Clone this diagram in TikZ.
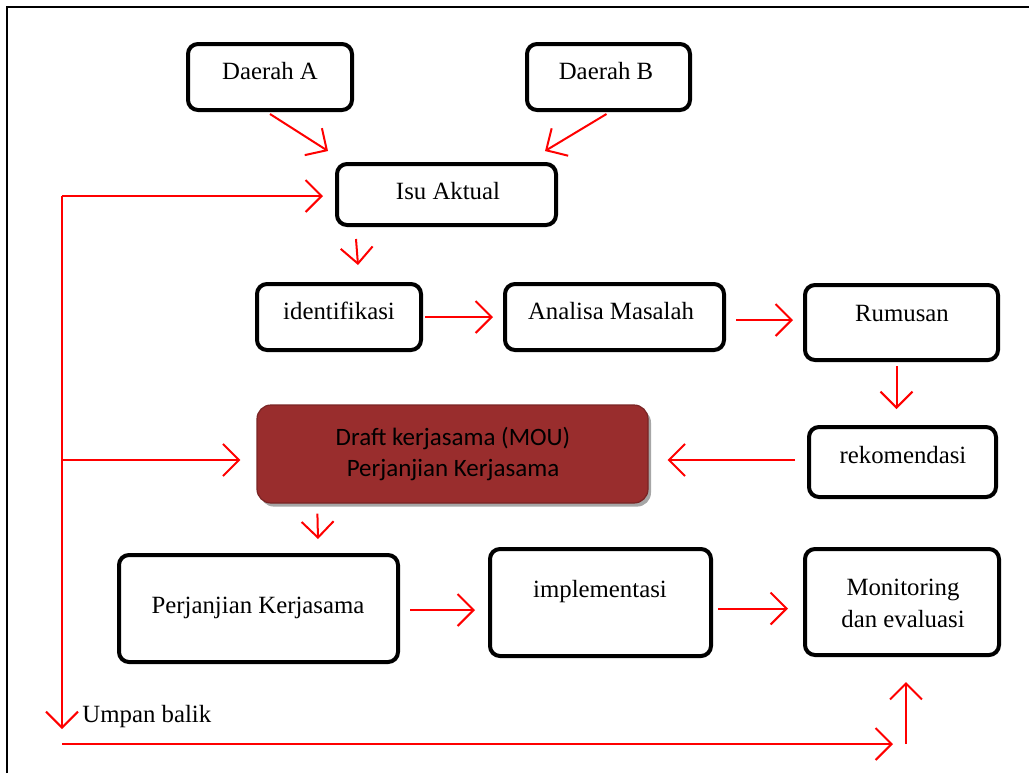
\documentclass[tikz,border=0pt]{standalone}
\usepackage{fontspec}
\setmainfont{Liberation Serif}
\newfontfamily\calfont{Carlito}
\usetikzlibrary{arrows.meta,calc,shadows}
\definecolor{arred}{RGB}{255,0,0}
\definecolor{draftred}{RGB}{153,45,45}
\begin{document}
\begin{tikzpicture}[x=0.5pt,y=-0.5pt,
  box/.style={draw=black,line width=2pt,rounded corners=5pt,inner sep=0pt,fill=white},
  txt/.style={anchor=base,inner sep=0pt,font=\fontsize{12.4}{15}\selectfont},
  arr/.style={draw=arred,line width=1pt,-{Straight Barb[length=8pt,width=16pt,line width=1pt]}},
  rline/.style={draw=arred,line width=1pt}]
\useasboundingbox (0,0) rectangle (1029,773);
\draw[line width=1pt] (7,773) -- (7,7) -- (1029,7);
% boxes
\node[box,minimum width=82pt,minimum height=33pt] (da) at (270,77) {};
\node[box,minimum width=81.5pt,minimum height=33pt] (db) at (608.5,77) {};
\node[box,minimum width=109.5pt,minimum height=30.5pt] (isu) at (446.5,194.5) {};
\node[box,minimum width=82pt,minimum height=33pt] (idf) at (339,317) {};
\node[box,minimum width=109.5pt,minimum height=33pt] (ana) at (614.5,317) {};
\node[box,minimum width=96.5pt,minimum height=37.5pt] (rum) at (901.5,322.5) {};
\node[box,minimum width=93.5pt,minimum height=35pt] (rek) at (902.5,462) {};
\node[draw=draftred!80!black,line width=0.6pt,fill=draftred,rounded corners=7pt,inner sep=0pt,
  minimum width=195.5pt,minimum height=49pt,
  drop shadow={shadow xshift=1.5pt,shadow yshift=-1.8pt,fill=gray!70,opacity=1}] (draft) at (452.5,454) {};
\node[box,minimum width=139.5pt,minimum height=53.5pt] (pk) at (258.5,608.5) {};
\node[box,minimum width=110.5pt,minimum height=53.5pt] (imp) at (600.5,602.5) {};
\node[box,minimum width=97pt,minimum height=53pt] (mon) at (902,602) {};
% texts
\node[txt] (tda) at (270,79) {Daerah A};
\node[txt] (tdb) at (606,79) {Daerah B};
\node[txt] (tisu) at (448,199) {Isu Aktual};
\node[txt] (tidf) at (339,319) {identifikasi};
\node[txt] (tana) at (611,319) {Analisa Masalah};
\node[txt] (trum) at (902,321) {Rumusan};
\node[txt] (trek) at (903,463) {rekomendasi};
\node[txt,font=\calfont\fontsize{12.5}{15}\selectfont] (tdr1) at (453,445) {Draft kerjasama (MOU)};
\node[txt,font=\calfont\fontsize{12.5}{15}\selectfont] (tdr2) at (453,476) {Perjanjian Kerjasama};
\node[txt] (tpk) at (258,613) {Perjanjian Kerjasama};
\node[txt] (timp) at (600,597) {implementasi};
\node[txt] (tmon1) at (903,595) {Monitoring};
\node[txt] (tmon2) at (903,627) {dan evaluasi};
\node[txt,anchor=base west] (tub) at (82,722) {Umpan balik};
% feedback coordinates
\coordinate (fbtop) at (62,196);
\coordinate (fbmid) at (62,460);
\coordinate (fbend) at (62,729);
\coordinate (btl) at (62,744);
\coordinate (btr) at (893,744);
\coordinate (upst) at (906,744);
% connectors
\draw[arr] ($(da.south)+(0,2)$) -- ($(isu.north west)+(-7,-11)$);
\draw[arr] ($(db.south)+(-2,2)$) -- ($(isu.north east)+(-13,-11)$);
\draw[arr] (fbtop) -- ($(isu.west)+(-12,1.5)$);
\draw[arr] (fbtop) -- (fbend);
\draw[arr] (fbmid) -- ($(draft.west)+(-16,6)$);
\draw[arr] (btl) -- (btr);
\draw[arr] (upst) -- ($(mon.south)+(4,25)$);
\draw[arr] ($(isu.south west)+(21,12)$) -- ($(idf.north)+(19,-17)$);
\draw[arr] ($(idf.east)+(2,0)$) -- ($(ana.west)+(-10,0)$);
\draw[arr] ($(ana.east)+(10,3)$) -- ($(rum.west)+(-10,-2.5)$);
\draw[arr] ($(rum.south)+(-5,4)$) -- ($(rek.north)+(-6,-16)$);
\draw[arr] ($(rek.west)+(-12,-2)$) -- ($(draft.east)+(19,6)$);
\draw[arr] ($(draft.south west)+(61,10)$) -- ($(pk.north)+(59.5,-14)$);
\draw[arr] ($(pk.east)+(10,1.5)$) -- ($(imp.west)+(-13,7.5)$);
\draw[arr] ($(imp.east)+(5,6)$) -- ($(mon.west)+(-15,6.5)$);
\end{tikzpicture}
\end{document}
